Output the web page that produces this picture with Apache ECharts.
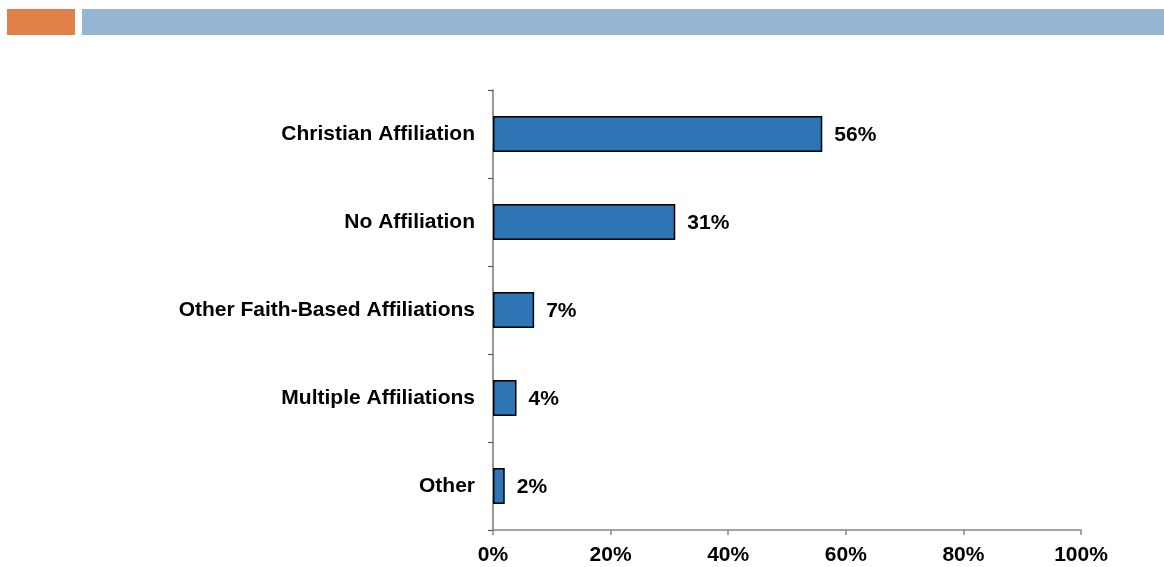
<!DOCTYPE html>
<html>
<head>
<meta charset="utf-8">
<style>
  html, body { margin: 0; padding: 0; background: #ffffff; }
  #chart { width: 1164px; height: 567px; }
</style>
<script src="https://cdn.jsdelivr.net/npm/echarts@6/dist/echarts.min.js"></script>
</head>
<body>
<div id="chart"></div>
<script>
// Religious affiliation shares, top to bottom
const categories = [
  'Christian Affiliation',
  'No Affiliation',
  'Other Faith-Based Affiliations',
  'Multiple Affiliations',
  'Other'
];
const shares = [56, 31, 7, 4, 2];
const xTicks = { min: 0, max: 100, interval: 20 };

const FONT = '"Liberation Sans", Arial, sans-serif';
const FONT_SIZE = 21;
const chart = echarts.init(document.getElementById('chart'), null, { renderer: 'canvas' });

chart.setOption({
  animation: false,
  backgroundColor: '#ffffff',
  textStyle: { fontFamily: FONT },
  graphic: [
    { type: 'rect', shape: { x: 7, y: 9, width: 68, height: 26 }, style: { fill: '#DF8148' } },
    { type: 'rect', shape: { x: 82, y: 9, width: 1082, height: 26 }, style: { fill: '#94B6D2' } }
  ],
  grid: { left: 493, right: 83, top: 90, bottom: 37, containLabel: false },
  xAxis: {
    type: 'value',
    min: xTicks.min,
    max: xTicks.max,
    interval: xTicks.interval,
    axisLine: { show: true, lineStyle: { color: '#888888', width: 1.5 } },
    axisTick: { show: true, length: 5, lineStyle: { color: '#888888', width: 1.5 } },
    splitLine: { show: false },
    axisLabel: {
      formatter: '{value}%',
      color: '#000000',
      fontFamily: FONT,
      fontWeight: 'bold',
      fontSize: FONT_SIZE,
      margin: 15
    }
  },
  yAxis: {
    type: 'category',
    inverse: true,
    data: categories,
    axisLine: { show: true, lineStyle: { color: '#777777', width: 1.5 } },
    axisTick: { show: true, length: 5, lineStyle: { color: '#555555', width: 1.2 } },
    axisLabel: {
      color: '#000000',
      fontFamily: FONT,
      fontWeight: 'bold',
      fontSize: FONT_SIZE,
      margin: 18
    }
  },
  series: [{
    type: 'bar',
    data: shares,
    barWidth: 36,
    itemStyle: { color: '#2E75B6', borderColor: '#000000', borderWidth: 1.5 },
    label: {
      show: true,
      position: 'right',
      distance: 12,
      offset: [0, 1],
      formatter: '{c}%',
      color: '#000000',
      fontFamily: FONT,
      fontWeight: 'bold',
      fontSize: FONT_SIZE
    }
  }]
});
</script>
</body>
</html>
